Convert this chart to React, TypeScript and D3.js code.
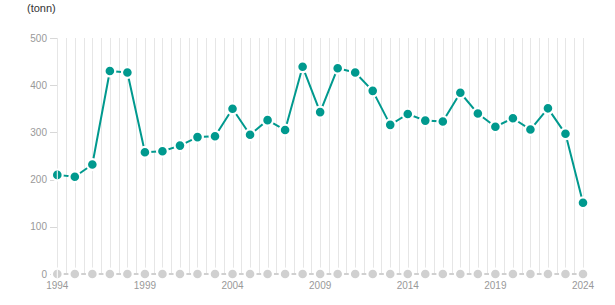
import React from "react";
import * as d3 from "d3";

const years: number[] = d3.range(1994, 2025);
const values: number[] = [210, 206, 232, 430, 427, 258, 260, 272, 290, 292, 350, 295, 326, 305, 439, 343, 436, 427, 388, 316, 339, 325, 323, 384, 340, 312, 330, 306, 351, 297, 151];
const zeros: number[] = years.map(() => 0);
const yTicks: number[] = [0, 100, 200, 300, 400, 500];
const xTickYears: number[] = [1994, 1999, 2004, 2009, 2014, 2019, 2024];
const unitLabel = "(tonn)";

const W = 615, H = 305;
const TEAL = "#00998e";
const GRAY = "#d0d0d0";

export default function App() {
  const x = d3.scaleLinear().domain([1994, 2024]).range([57.3, 583]);
  const y = d3.scaleLinear().domain([0, 500]).range([274, 38]);
  const line = d3.line<number>().x((_, i) => x(years[i])).y((d) => y(d));
  const gridYears = d3.range(1994, 2024.01, 0.5);
  const r = 4.3;
  const halo = 2.2;

  const series = (vals: number[], color: string, key: string) => (
    <g key={key}>
      <path d={line(vals) || ""} fill="none" stroke={color} strokeWidth={2} strokeLinejoin="round" />
      {vals.map((v, i) => (
        <circle key={i} cx={x(years[i])} cy={y(v)} r={r + halo / 2} fill={color} stroke="#fff" strokeWidth={halo} />
      ))}
      {vals.map((v, i) =>
        years[i] === 1994 ? (
          <line key={"w" + i} x1={x(1994)} x2={x(1994)} y1={y(v) - r} y2={y(v) + r} stroke="#fff" strokeWidth={1} />
        ) : null
      )}
    </g>
  );

  return (
    <svg width={W} height={H} style={{ position: "absolute", left: 0, top: 0, fontFamily: "'Liberation Sans', Arial, sans-serif" }}>
      <rect width={W} height={H} fill="#fff" />
      <text x={27} y={12} fontSize={11} fill="#333">{unitLabel}</text>
      {gridYears.map((g, i) => (
        <line key={i} x1={Math.round(x(g)) + 0.5} x2={Math.round(x(g)) + 0.5} y1={y(500)} y2={y(0)} stroke="#e6e6e6" strokeWidth={1} />
      ))}
      {yTicks.map((t) => (
        <g key={t}>
          <line x1={50} x2={57} y1={Math.round(y(t)) + 0.5} y2={Math.round(y(t)) + 0.5} stroke="#d8d8d8" strokeWidth={1} />
          <text x={47} y={y(t)} dy="0.35em" textAnchor="end" fontSize={10} fill="#999">{t}</text>
        </g>
      ))}
      {xTickYears.map((t) => (
        <text key={t} x={x(t)} y={289} textAnchor="middle" fontSize={10} fill="#999">{t}</text>
      ))}
      {series(zeros, GRAY, "zero")}
      {series(values, TEAL, "val")}
    </svg>
  );
}
